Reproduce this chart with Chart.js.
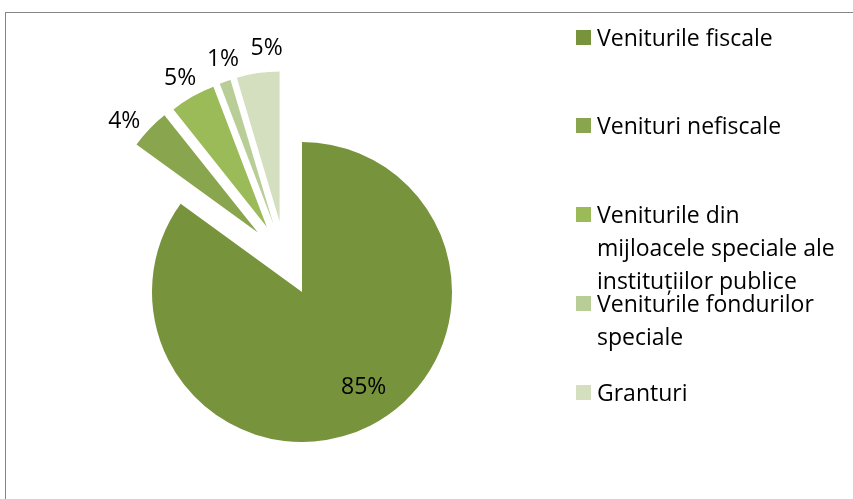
<!DOCTYPE html>
<html>
<head>
<meta charset="utf-8">
<script src="https://cdn.jsdelivr.net/npm/chart.js@4.4.1/dist/chart.umd.min.js"></script>
<style>
html, body { margin: 0; padding: 0; background: #fff; overflow: hidden; }
#wrap { position: relative; width: 853px; height: 499px; }
#frame { position: absolute; left: 5px; top: 12px; width: 900px; height: 600px;
  border-top: 1px solid #868686; border-left: 1px solid #868686; }
#DataChart { position: absolute; left: 0; top: 0; }
#legend-container ul { list-style: none; margin: 0; padding: 0; }
#legend-container li { position: absolute; left: 576px; font-family: "Open Sans", sans-serif;
  font-size: 23px; line-height: 33px; color: #000; white-space: pre; }
#legend-container li span { position: absolute; left: 0; top: 9px; width: 15px; height: 15px; }
#legend-container li p { margin: 0; padding: 0 0 0 21px; }
</style>
</head>
<body>
<div id="wrap">
  <div id="frame"></div>
  <canvas id="DataChart" width="853" height="499"></canvas>
  <div id="legend-container"></div>
</div>
<script>
// categories
const labels = [
  "Veniturile fiscale",
  "Venituri nefiscale",
  "Veniturile din\nmijloacele speciale ale\ninstituțiilor publice",
  "Veniturile fondurilor\nspeciale",
  "Granturi"
];
// share of total revenue, %
const values = [85.0, 4.3, 4.9, 1.2, 4.6];
const colors = ["#77933C", "#89A54E", "#9BBB59", "#B9CD96", "#D3DFBE"];
// how far each slice is pulled out (px)
const explode = [0, 74, 74, 74, 74];

// exploded slices: pull each slice out, leaning toward the middle of the pulled group
const explodePlugin = {
  id: 'explode',
  beforeDatasetDraw(chart, args, opts) {
    const ctx = chart.ctx;
    const arcs = args.meta.data;
    const out = arcs.filter((a, i) => opts.distance[i] > 0);
    const groupMid = (out[0].startAngle + out[out.length - 1].endAngle) / 2;
    arcs.forEach((arc, i) => {
      const d = opts.distance[i] || 0;
      const mid = (arc.startAngle + arc.endAngle) / 2;
      const dir = d > 0 ? (mid + groupMid) / 2 : mid;
      ctx.save();
      ctx.translate(Math.cos(dir) * d, Math.sin(dir) * d);
      arc.draw(ctx, chart.chartArea);
      ctx.restore();
    });
    return false;
  }
};

// percentage labels
const pctPlugin = {
  id: 'pct',
  afterDatasetsDraw(chart) {
    const ctx = chart.ctx;
    const arcs = chart.getDatasetMeta(0).data;
    const total = values.reduce((a, b) => a + b, 0);
    ctx.save();
    ctx.font = '23px "Open Sans", sans-serif';
    ctx.fillStyle = '#000';
    ctx.textAlign = 'center';
    ctx.textBaseline = 'middle';
    arcs.forEach((arc, i) => {
      let mid = (arc.startAngle + arc.endAngle) / 2;
      let r = arc.outerRadius * 1.64;
      if (i === 0) { mid -= 0.1; r = arc.outerRadius * 0.76; }
      const txt = Math.round(values[i] / total * 100) + '%';
      ctx.fillText(txt, arc.x + Math.cos(mid) * r, arc.y + Math.sin(mid) * r);
    });
    ctx.restore();
  }
};

const htmlLegendPlugin = {
  id: 'htmlLegend',
  afterUpdate(chart, args, options) {
    const box = document.getElementById(options.containerID);
    let ul = box.querySelector('ul');
    if (!ul) {
      ul = document.createElement('ul');
      box.appendChild(ul);
    }
    while (ul.firstChild) ul.firstChild.remove();
    const items = chart.options.plugins.legend.labels.generateLabels(chart);
    items.forEach((item, index) => {
      const li = document.createElement('li');
      li.id = 'legend_' + index;
      li.style.top = (37 + index * 88.75 - 16.5) + 'px';
      const sq = document.createElement('span');
      sq.style.background = item.fillStyle;
      const p = document.createElement('p');
      p.appendChild(document.createTextNode(item.text));
      li.appendChild(sq);
      li.appendChild(p);
      ul.appendChild(li);
    });
  }
};

const config = {
  type: 'pie',
  data: {
    labels: labels,
    datasets: [{
      data: values,
      backgroundColor: colors,
      borderWidth: 0,
      hoverOffset: 0
    }]
  },
  options: {
    responsive: false,
    animation: false,
    radius: 150,
    layout: { padding: { left: 0, right: 249, top: 85, bottom: 0 } },
    plugins: {
      legend: { display: false },
      tooltip: { enabled: false },
      htmlLegend: { containerID: 'legend-container' },
      explode: { distance: explode }
    }
  },
  plugins: [explodePlugin, pctPlugin, htmlLegendPlugin]
};

new Chart(document.getElementById('DataChart'), config);
</script>
</body>
</html>
